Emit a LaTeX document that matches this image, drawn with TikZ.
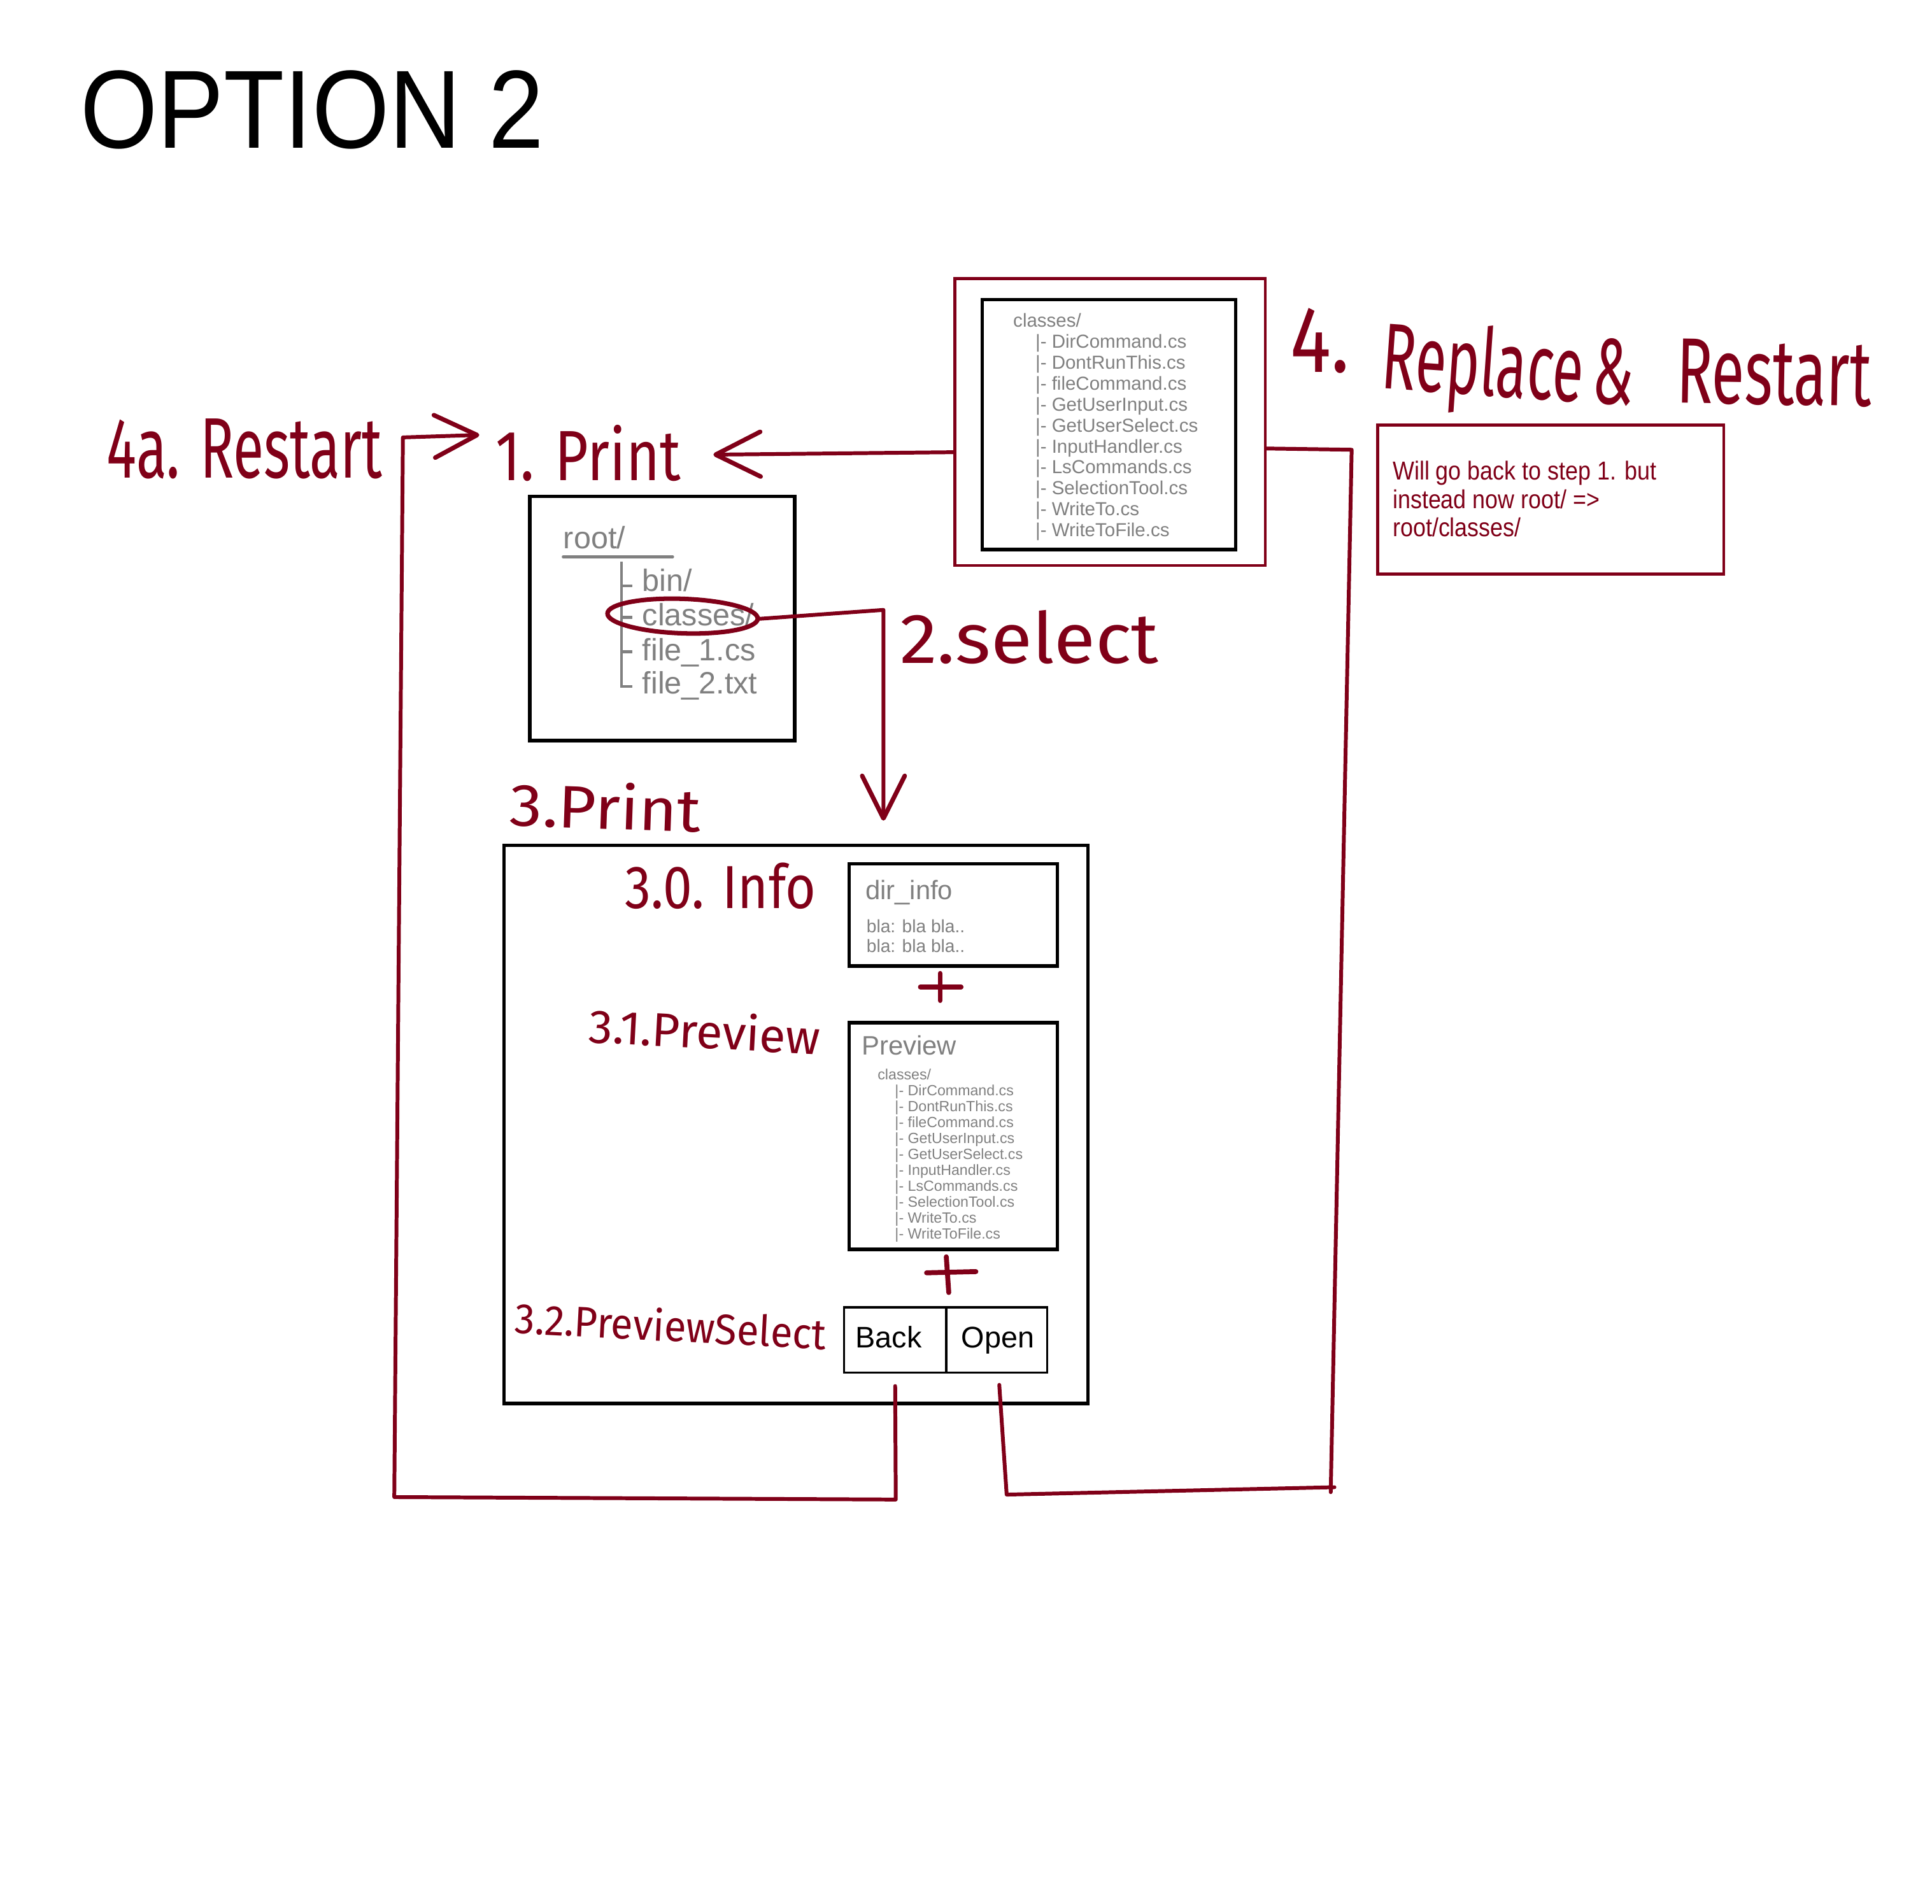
\documentclass[tikz,border=0pt]{standalone}
\usepackage{fontspec}
\setmainfont{Liberation Sans}
\newfontfamily\handfont{Fira Sans}
\newfontfamily\narrowfont[FakeStretch=0.88]{Liberation Sans}
\usetikzlibrary{shapes.geometric,arrows.meta,calc}
\newlength\pxu
\setlength\pxu{0.1935mm}
\definecolor{mred}{RGB}{128,0,24}
\definecolor{tgray}{RGB}{128,128,128}
\newcommand\hw[3]{\resizebox{#1\pxu}{#2\pxu}{\handfont #3}}
\tikzset{
  blackbox/.style={draw=black, line width=1.5pt, rectangle, inner sep=0pt},
  btnbox/.style={draw=black, line width=1.0pt, rectangle, inner sep=0pt, font=\fontsize{13.3pt}{15pt}\selectfont},
  redframe/.style={draw=mred, line width=1.3pt, rectangle, inner sep=0pt},
  rline/.style={draw=mred, line width=1.7pt, line cap=round, line join=round},
  hand/.style={text=mred, inner sep=0pt, anchor=base west},
  gtext/.style={text=tgray, inner sep=0pt, anchor=base west},
  barb/.style={-{Straight Barb[length=#1, width=#1, line width=2pt, round]}},
}
\begin{document}
\begin{tikzpicture}[x=0.1935mm, y=-0.1935mm]
\useasboundingbox[fill=white] (0,0) rectangle (1568,1545);

% title
\node[anchor=base west, inner sep=0pt] (title) at (65,120) {\resizebox{376\pxu}{63\pxu}{OPTION 2}};

% top right red frame with listing
\node[redframe, minimum width=252\pxu, minimum height=233\pxu] (redbox) at (901,342.5) {};
\node[blackbox, minimum width=206\pxu, minimum height=203\pxu] (inner) at (900,344.5) {};
\node[gtext, font=\fontsize{8.4pt}{10pt}\selectfont] (rlc) at (822,265.5) {classes/};
\foreach \f [count=\i from 0] in {DirCommand.cs,DontRunThis.cs,fileCommand.cs,GetUserInput.cs,GetUserSelect.cs,InputHandler.cs,LsCommands.cs,SelectionTool.cs,WriteTo.cs,WriteToFile.cs}
  \node[gtext, font=\fontsize{8.4pt}{10pt}\selectfont] (rl\i) at (840,282.5+17*\i) {|-\ \f};

% note box
\node[redframe, minimum width=281\pxu, minimum height=121\pxu] (note) at (1258.5,405.5) {};
\node[anchor=base west, inner sep=0pt, text=mred, font=\narrowfont\fontsize{11.6pt}{12.7pt}\selectfont] (n1) at (1130,389.5) {Will go back to step 1. but};
\node[anchor=base west, inner sep=0pt, text=mred, font=\narrowfont\fontsize{11.6pt}{12.7pt}\selectfont] (n2) at (1130,412.5) {instead now root/ =>};
\node[anchor=base west, inner sep=0pt, text=mred, font=\narrowfont\fontsize{11.6pt}{12.7pt}\selectfont] (n3) at (1130,435.5) {root/classes/};

% root box
\node[blackbox, minimum width=215\pxu, minimum height=198\pxu] (rootbox) at (537.5,502) {};
\node[gtext, font=\fontsize{13.8pt}{16pt}\selectfont] (troot) at (457,445) {root/};
\draw[tgray, line width=1.2pt, line cap=round] (457,452) -- (546,452);
\draw[tgray, line width=1.2pt] (504.5,456) -- (504.5,557) -- (513,557)
  (504.5,475.5) -- (513,475.5) (504.5,501) -- (513,501) (504.5,529) -- (513,529);
\node[gtext, font=\fontsize{13.8pt}{16pt}\selectfont] (tbin) at (521,480) {bin/};
\node[gtext, font=\fontsize{13.8pt}{16pt}\selectfont] (tcls) at (521,508) {classes/};
\node[gtext, font=\fontsize{13.8pt}{16pt}\selectfont] (tf1) at (521,536) {file\_1.cs};
\node[gtext, font=\fontsize{13.8pt}{16pt}\selectfont] (tf2) at (521,563) {file\_2.txt};
\node[ellipse, draw=mred, line width=2pt, minimum width=122\pxu, minimum height=28\pxu, inner sep=0pt, rotate=-2] (sel) at (554,500) {};

% big box
\node[blackbox, minimum width=474\pxu, minimum height=453\pxu] (bigbox) at (646,912.5) {};
\node[blackbox, minimum width=169\pxu, minimum height=83\pxu] (infobox) at (773.5,742.5) {};
\node[gtext, font=\fontsize{11.9pt}{14pt}\selectfont] (tdir) at (702,730) {dir\_info};
\node[gtext, font=\fontsize{8pt}{9pt}\selectfont] (tb1) at (703,757) {bla: bla bla..};
\node[gtext, font=\fontsize{8pt}{9pt}\selectfont] (tb2) at (703,773) {bla: bla bla..};
\node[blackbox, minimum width=169\pxu, minimum height=184\pxu] (prevbox) at (773.5,922) {};
\node[gtext, font=\fontsize{11.9pt}{14pt}\selectfont] (tprev) at (699,856) {Preview};
\node[gtext, font=\fontsize{6.6pt}{8pt}\selectfont] (plc) at (712,876.3) {classes/};
\foreach \f [count=\i from 0] in {DirCommand.cs,DontRunThis.cs,fileCommand.cs,GetUserInput.cs,GetUserSelect.cs,InputHandler.cs,LsCommands.cs,SelectionTool.cs,WriteTo.cs,WriteToFile.cs}
  \node[gtext, font=\fontsize{6.6pt}{8pt}\selectfont] (pl\i) at (726,889.3+12.9*\i) {|-\ \f};
\node[btnbox, minimum width=83\pxu, minimum height=53\pxu] (backbtn) at (726.5,1087.5) {};
\node[anchor=base west, inner sep=0pt, font=\fontsize{13.3pt}{15pt}\selectfont] (tback) at (694,1094) {Back};
\node[btnbox, minimum width=82\pxu, minimum height=53\pxu] (openbtn) at (809,1087.5) {};
\node[anchor=base west, inner sep=0pt, font=\fontsize{13.3pt}{15pt}\selectfont] (topen) at (780,1094) {Open};

% plus signs
\draw[rline, line width=2.2pt] (747,801) -- (780,801) (763,790) -- (763,812);
\draw[rline, line width=2.2pt] (752,1033) -- (792,1032) (768,1020) -- (770,1049);

% handwritten labels
\node[hand] (l4a) at (86,388) {\hw{224}{48}{4a. Restart}};
\node[hand] (p1) at (402,390) {\hw{150}{45}{1. Print}};
\node[hand] (s2) at (730,538) {\hw{210}{43}{2.select}};
\node[hand, rotate=-2] (p3) at (413,670) {\hw{155}{38}{3.Print}};
\node[hand] (i30) at (507,737) {\hw{155}{37}{3.0. Info}};
\node[hand, rotate=-3] (pv31) at (477,846) {\hw{188}{30}{3.1.Preview}};
\node[hand, rotate=-3] (ps32) at (417,1082) {\hw{253}{27}{3.2.PreviewSelect}};
\node[hand] (r4a) at (1047,302) {\hw{48}{52}{4.}};
\node[hand, rotate=-4] (r4b) at (1120,315) {\hw{205}{57}{Replace\,\&}};
\node[hand, rotate=-1] (r4c) at (1360,327) {\hw{158}{52}{Restart}};

% connectors
\coordinate (a1tip) at (389,353);
\coordinate (a2tip) at (579,369);
\coordinate (a3tip) at (717,666);
\draw[rline, barb=20pt] ($(redbox.west)+(0,24.5)$) -- (a2tip);
\draw[rline, barb=19pt] (sel.east) -- (717,495) -- (a3tip);
\draw[rline, barb=19pt] ($(backbtn.south)+(0,10)$) -- (727,1217) -- (320,1215) -- (327,355) -- (a1tip);
\draw[rline] ($(openbtn.south)+(2,9)$) -- (817,1213) -- (1083,1207);
\draw[rline] ($(redbox.east)+(0,21.5)$) -- (1097,365) -- (1080,1211);
\end{tikzpicture}
\end{document}
